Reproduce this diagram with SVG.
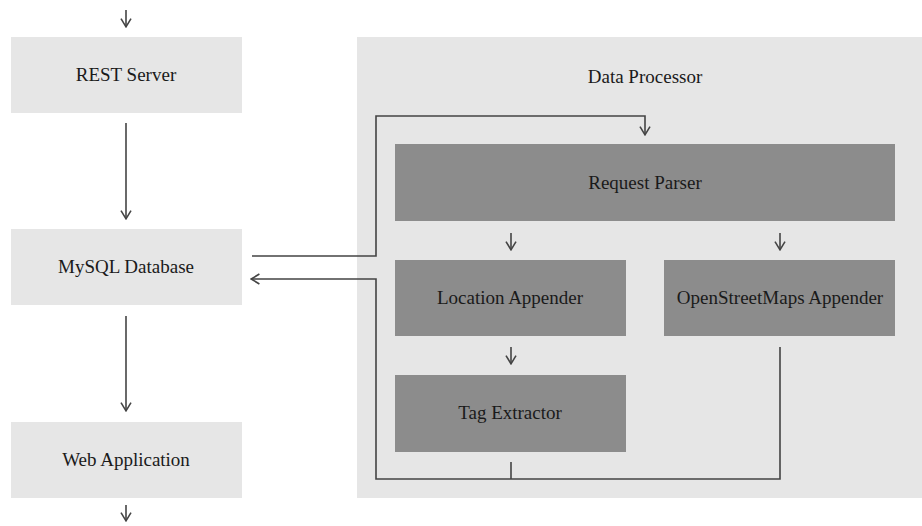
<svg xmlns="http://www.w3.org/2000/svg" width="922" height="526" viewBox="0 0 922 526">
  <style>
    .light { fill: #e6e6e6; }
    .dark { fill: #8c8c8c; }
    text { font-family: 'Liberation Serif', Tinos, 'DejaVu Serif', serif; font-size: 19px; fill: #1a1a1a; text-anchor: middle; }
    .wire { fill: none; stroke: #444444; stroke-width: 1.6; }
  </style>
  <defs>
    <!-- open V arrowhead shared by every connector -->
    <marker id="arrow" viewBox="0 0 10 12" refX="9.2" refY="6" markerWidth="10" markerHeight="12" markerUnits="userSpaceOnUse" orient="auto">
      <path d="M0.8,1 L9,6 L0.8,11" fill="none" stroke="#444444" stroke-width="1.6"/>
    </marker>
  </defs>

  <rect width="922" height="526" fill="#ffffff"/>

  <!-- container for the processing stages -->
  <g id="data-processor">
    <rect class="light" x="357" y="37" width="565" height="461"/>
    <text x="645" y="83">Data Processor</text>
  </g>

  <g id="rest-server">
    <rect class="light" x="11" y="37" width="231" height="76"/>
    <text x="126" y="81">REST Server</text>
  </g>
  <g id="mysql-database">
    <rect class="light" x="11" y="229" width="231" height="76"/>
    <text x="126" y="273">MySQL Database</text>
  </g>
  <g id="web-application">
    <rect class="light" x="11" y="422" width="231" height="76"/>
    <text x="126" y="466">Web Application</text>
  </g>

  <g id="request-parser">
    <rect class="dark" x="395" y="144" width="500" height="77"/>
    <text x="645" y="189">Request Parser</text>
  </g>
  <g id="location-appender">
    <rect class="dark" x="395" y="260" width="231" height="76"/>
    <text x="510" y="304">Location Appender</text>
  </g>
  <g id="openstreetmaps-appender">
    <rect class="dark" x="664" y="260" width="231" height="76"/>
    <text x="780" y="304">OpenStreetMaps Appender</text>
  </g>
  <g id="tag-extractor">
    <rect class="dark" x="395" y="375" width="231" height="77"/>
    <text x="510" y="419">Tag Extractor</text>
  </g>

  <g id="connectors">
    <line class="wire" x1="126" y1="10" x2="126" y2="27" marker-end="url(#arrow)"/>
    <line class="wire" x1="126" y1="123" x2="126" y2="219" marker-end="url(#arrow)"/>
    <line class="wire" x1="126" y1="316" x2="126" y2="411" marker-end="url(#arrow)"/>
    <line class="wire" x1="126" y1="505" x2="126" y2="521" marker-end="url(#arrow)"/>

    <polyline class="wire" points="252,256 376,256 376,116 645,116 645,135" marker-end="url(#arrow)"/>
    <line class="wire" x1="511" y1="233" x2="511" y2="250" marker-end="url(#arrow)"/>
    <line class="wire" x1="780" y1="233" x2="780" y2="250" marker-end="url(#arrow)"/>
    <line class="wire" x1="511" y1="347" x2="511" y2="364" marker-end="url(#arrow)"/>

    <polyline class="wire" points="511,462 511,479"/>
    <polyline class="wire" points="780,347 780,479 376,479 376,279 251,279" marker-end="url(#arrow)"/>
  </g>
</svg>
